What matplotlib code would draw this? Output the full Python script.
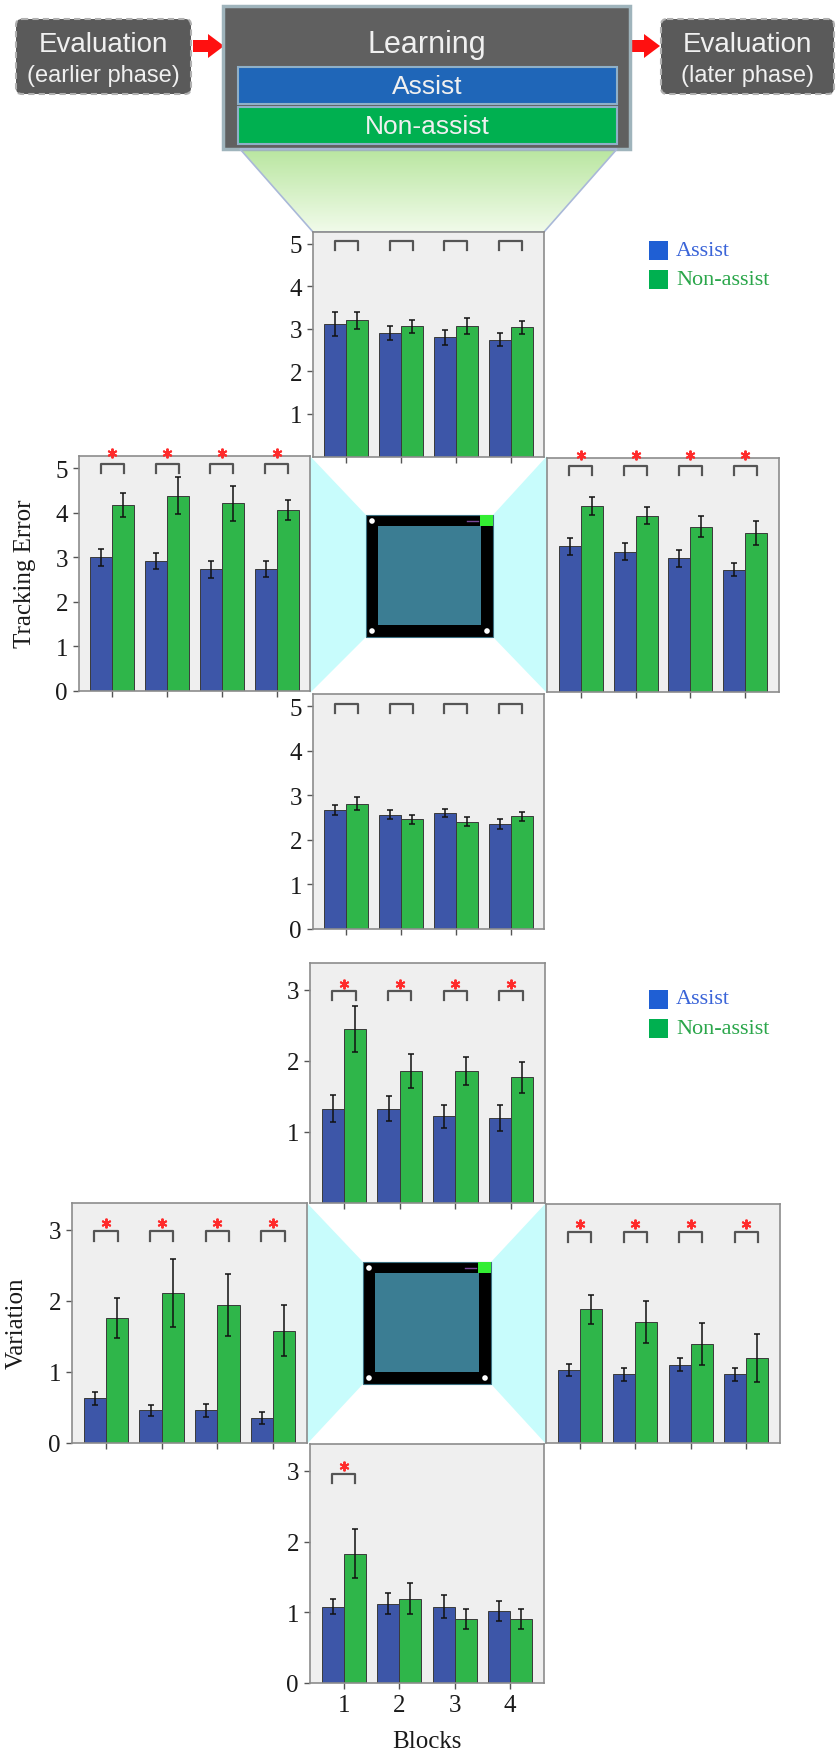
import numpy as np
import matplotlib
matplotlib.use("Agg")
import matplotlib.pyplot as plt
from matplotlib.patches import Polygon, Rectangle, FancyBboxPatch, Circle
from matplotlib.colors import LinearSegmentedColormap

W, H = 837, 1756
DPI = 100

blocks = [1, 2, 3, 4]

# Tracking error (mean, error) per block
te_learn_assist = [3.12, 2.91, 2.80, 2.75]
te_learn_assist_err = [0.28, 0.16, 0.17, 0.16]
te_learn_non = [3.20, 3.06, 3.07, 3.04]
te_learn_non_err = [0.19, 0.16, 0.19, 0.15]
te_learn_sig = ["ns", "ns", "ns", "ns"]

te_early_assist = [3.00, 2.92, 2.73, 2.74]
te_early_assist_err = [0.20, 0.19, 0.19, 0.17]
te_early_non = [4.17, 4.39, 4.22, 4.07]
te_early_non_err = [0.27, 0.41, 0.39, 0.23]
te_early_sig = ["*", "*", "*", "*"]

te_late_assist = [3.29, 3.17, 3.02, 2.76]
te_late_assist_err = [0.19, 0.19, 0.19, 0.14]
te_late_non = [4.19, 3.98, 3.73, 3.59]
te_late_non_err = [0.20, 0.20, 0.24, 0.27]
te_late_sig = ["*", "*", "*", "*"]

te_lower_assist = [2.67, 2.56, 2.59, 2.36]
te_lower_assist_err = [0.11, 0.10, 0.09, 0.11]
te_lower_non = [2.81, 2.46, 2.40, 2.53]
te_lower_non_err = [0.15, 0.10, 0.10, 0.10]
te_lower_sig = ["ns", "ns", "ns", "ns"]

# Variation (mean, error) per block
var_learn_assist = [1.33, 1.33, 1.22, 1.20]
var_learn_assist_err = [0.19, 0.18, 0.16, 0.18]
var_learn_non = [2.45, 1.86, 1.86, 1.77]
var_learn_non_err = [0.33, 0.235, 0.20, 0.22]
var_learn_sig = ["*", "*", "*", "*"]

var_early_assist = [0.63, 0.46, 0.46, 0.35]
var_early_assist_err = [0.09, 0.075, 0.09, 0.08]
var_early_non = [1.76, 2.11, 1.94, 1.58]
var_early_non_err = [0.28, 0.48, 0.44, 0.36]
var_early_sig = ["*", "*", "*", "*"]

var_late_assist = [1.03, 0.97, 1.11, 0.97]
var_late_assist_err = [0.085, 0.09, 0.09, 0.09]
var_late_non = [1.89, 1.71, 1.40, 1.20]
var_late_non_err = [0.20, 0.30, 0.30, 0.34]
var_late_sig = ["*", "*", "*", "*"]

var_lower_assist = [1.08, 1.12, 1.08, 1.02]
var_lower_assist_err = [0.11, 0.15, 0.16, 0.14]
var_lower_non = [1.83, 1.19, 0.91, 0.91]
var_lower_non_err = [0.35, 0.22, 0.14, 0.14]
var_lower_sig = ["*", "", "", ""]

BLUE = "#3d56a8"
GREEN = "#2fb64a"
BAR_EDGE = "#3a3a3a"
PANEL_BG = "#efefef"
SPINE = "#8c8c8c"
BRACKET = "#555555"
STAR = "#ff2a2a"
CYAN = "#c8fcfc"
SERIF = ["Liberation Serif", "DejaVu Serif"]
SANS = ["Liberation Sans", "DejaVu Sans"]

fig = plt.figure(figsize=(W / DPI, H / DPI), dpi=DPI)

# pixel-space canvas for the diagram parts
bg = fig.add_axes([0, 0, 1, 1], zorder=0)
bg.set_xlim(0, W)
bg.set_ylim(H, 0)
bg.axis("off")


def draw_panel(rect, ymax, yticks, assist, assist_err, non, non_err, sig,
               bracket_y, star_y, xlabels=False):
    x0, y0, x1, y1 = rect
    ax = fig.add_axes([x0 / W, 1 - y1 / H, (x1 - x0) / W, (y1 - y0) / H], zorder=2)
    ax.set_facecolor(PANEL_BG)
    x = np.array(blocks, dtype=float)
    ebar = dict(ecolor="#111111", elinewidth=1.1, capsize=2.5, capthick=1.1)
    ax.bar(x - 0.2, assist, 0.4, yerr=assist_err, color=BLUE,
           edgecolor=BAR_EDGE, linewidth=0.7, error_kw=ebar)
    ax.bar(x + 0.2, non, 0.4, yerr=non_err, color=GREEN,
           edgecolor=BAR_EDGE, linewidth=0.7, error_kw=ebar)
    top, leg = bracket_y
    for xi, s in zip(x, sig):
        if not s:
            continue
        ax.plot([xi - 0.21, xi - 0.21, xi + 0.21, xi + 0.21], [leg, top, top, leg],
                color=BRACKET, lw=1.6, solid_joinstyle="round", clip_on=False)
        if s == "*":
            ax.plot(xi, star_y, marker=(6, 2, 0), ms=7, mew=1.4, color=STAR,
                    clip_on=False, zorder=5)
    ax.set_xlim(0.39, 4.61)
    ax.set_ylim(0, ymax)
    ax.set_xticks(x)
    if xlabels:
        ax.set_xticklabels([str(b) for b in blocks], fontfamily=SERIF, fontsize=18)
    else:
        ax.set_xticklabels([])
    if yticks:
        ax.set_yticks(yticks)
        ax.set_yticklabels([str(t) for t in yticks], fontfamily=SERIF, fontsize=18)
    else:
        ax.set_yticks([])
    ax.tick_params(direction="out", length=4, width=1, colors="#555555",
                   labelcolor="#1a1a1a", pad=4)
    for sp in ax.spines.values():
        sp.set_color(SPINE)
        sp.set_linewidth(1.2)
    return ax


def draw_screen(region, square):
    rx0, ry0, rx1, ry1 = region
    sx0, sy0, sx1, sy1 = square
    bg.add_patch(Polygon([(rx0, ry0), (sx0, sy0), (sx0, sy1), (rx0, ry1)],
                         closed=True, fc=CYAN, ec="none", zorder=1))
    bg.add_patch(Polygon([(rx1, ry0), (sx1, sy0), (sx1, sy1), (rx1, ry1)],
                         closed=True, fc=CYAN, ec="none", zorder=1))
    bg.add_patch(Rectangle((sx0, sy0), sx1 - sx0, sy1 - sy0, fc="black",
                           ec="#3b6f80", lw=0.8, zorder=2))
    inset = 12
    bg.add_patch(Rectangle((sx0 + inset, sy0 + inset - 1), sx1 - sx0 - 2 * inset,
                           sy1 - sy0 - 2 * inset + 1, fc="#3b7d93", ec="none", zorder=3))
    bg.add_patch(Rectangle((sx1 - 13, sy0), 13, 11, fc="#33ee33", ec="none", zorder=3))
    bg.plot([sx1 - 26, sx1 - 15], [sy0 + 5.5, sy0 + 5.5], color="#7a4a9a", lw=1, zorder=3)
    for cx, cy in [(sx0 + 6, sy0 + 6), (sx0 + 6, sy1 - 6), (sx1 - 6, sy1 - 6)]:
        bg.add_patch(Circle((cx, cy), 2.8, fc="white", ec="none", zorder=4))


def draw_legend(x, y):
    for i, (label, sq, tc) in enumerate([("Assist", "#1f5fd4", "#3a64d8"),
                                          ("Non-assist", "#00b050", "#2aa64a")]):
        yy = y + i * 29.5
        bg.add_patch(Rectangle((x, yy - 9.5), 19, 19, fc=sq, ec="none", zorder=2))
        bg.text(x + 27, yy, label, color=tc, fontsize=16, fontfamily=SERIF,
                ha="left", va="center")


# ---- top diagram ----
TXT = "#f0f0f0"
for (bx0, bx1), l1, l2 in [((16, 191), "Evaluation", "(earlier phase)"),
                           ((661, 834), "Evaluation", "(later phase)")]:
    bg.add_patch(FancyBboxPatch((bx0, 20), bx1 - bx0, 75,
                                boxstyle="round,pad=0,rounding_size=6",
                                fc="#5a5a5a", ec="#b0b0b0", lw=1.5,
                                linestyle=(0, (3, 2)), zorder=2))
    cx = (bx0 + bx1) / 2
    bg.text(cx, 45, l1, color=TXT, fontsize=20, fontfamily=SANS, ha="center", va="center")
    bg.text(cx, 76, l2, color=TXT, fontsize=17, fontfamily=SANS, ha="center", va="center")

for ax0 in (193, 629):
    bg.add_patch(Polygon([(ax0, 41), (ax0 + 15, 41), (ax0 + 15, 35), (ax0 + 31, 47),
                          (ax0 + 15, 59), (ax0 + 15, 53), (ax0, 53)],
                         closed=True, fc="#ff1010", ec="none", zorder=2))

bg.add_patch(Rectangle((223, 7), 407, 143, fc="#606060", ec="#9fb4bc", lw=2.5, zorder=2))
bg.text(427, 45, "Learning", color=TXT, fontsize=22, fontfamily=SANS, ha="center", va="center")
bg.add_patch(Rectangle((238, 68), 379, 37, fc="#1f66b8", ec="#8fb0c8", lw=1.5, zorder=3))
bg.text(427, 87, "Assist", color=TXT, fontsize=19, fontfamily=SANS, ha="center", va="center")
bg.add_patch(Rectangle((238, 108), 379, 37, fc="#00b050", ec="#8fb0c8", lw=1.5, zorder=3))
bg.text(427, 127, "Non-assist", color=TXT, fontsize=19, fontfamily=SANS, ha="center", va="center")

trap = Polygon([(240, 150), (617, 150), (544, 233), (313, 233)], closed=True,
               fc="none", ec="#a9b8d8", lw=1.2, zorder=2)
bg.add_patch(trap)
grad = np.linspace(0, 1, 256)[:, None]
green_fade = LinearSegmentedColormap.from_list("fade", ["#b9e6a0", "#f1fbea"])
im = bg.imshow(grad, cmap=green_fade, extent=(240, 617, 233, 150), aspect="auto", zorder=1)
im.set_clip_path(trap)
bg.set_xlim(0, W)
bg.set_ylim(H, 0)

# ---- tracking error cross ----
TE_MAX = 5.28
te_ticks = [0, 1, 2, 3, 4, 5]
draw_screen((310, 457, 547, 694), (366, 516, 493, 638))
draw_panel((313, 233, 544, 457.5), TE_MAX, te_ticks[1:], te_learn_assist, te_learn_assist_err,
           te_learn_non, te_learn_non_err, te_learn_sig, (5.06, 4.86), 5.3)
draw_panel((79, 457, 310, 692), TE_MAX, te_ticks, te_early_assist, te_early_assist_err,
           te_early_non, te_early_non_err, te_early_sig, (5.1, 4.9), 5.35)
draw_panel((547, 459, 779, 693), TE_MAX, [], te_late_assist, te_late_assist_err,
           te_late_non, te_late_non_err, te_late_sig, (5.1, 4.9), 5.35)
draw_panel((313, 695, 544, 929.5), TE_MAX, te_ticks, te_lower_assist, te_lower_assist_err,
           te_lower_non, te_lower_non_err, te_lower_sig, (5.06, 4.86), 5.3)
fig.text(25 / W, 1 - 574 / H, "Tracking Error", rotation=90, fontsize=18,
         fontfamily=SERIF, ha="center", va="center", color="#1a1a1a")
draw_legend(649, 251)

# ---- variation cross ----
VAR_MAX = 3.38
var_ticks = [0, 1, 2, 3]
draw_screen((307, 1204, 546, 1445), (363, 1263, 491, 1385))
draw_panel((310, 964, 545, 1204), VAR_MAX, var_ticks[1:], var_learn_assist, var_learn_assist_err,
           var_learn_non, var_learn_non_err, var_learn_sig, (2.99, 2.86), 3.09)
draw_panel((72, 1204, 307, 1444), VAR_MAX, var_ticks, var_early_assist, var_early_assist_err,
           var_early_non, var_early_non_err, var_early_sig, (2.98, 2.84), 3.1)
draw_panel((546, 1205, 780, 1444), VAR_MAX, [], var_late_assist, var_late_assist_err,
           var_late_non, var_late_non_err, var_late_sig, (2.98, 2.84), 3.1)
draw_panel((310, 1445, 544, 1684), VAR_MAX, var_ticks, var_lower_assist, var_lower_assist_err,
           var_lower_non, var_lower_non_err, var_lower_sig, (2.96, 2.83), 3.07, xlabels=True)
fig.text(17 / W, 1 - 1323 / H, "Variation", rotation=90, fontsize=18,
         fontfamily=SERIF, ha="center", va="center", color="#1a1a1a")
fig.text(427 / W, 1 - 1742 / H, "Blocks", fontsize=18, fontfamily=SERIF,
         ha="center", va="center", color="#1a1a1a")
draw_legend(649, 1000)

fig.savefig("out.png", dpi=DPI)
